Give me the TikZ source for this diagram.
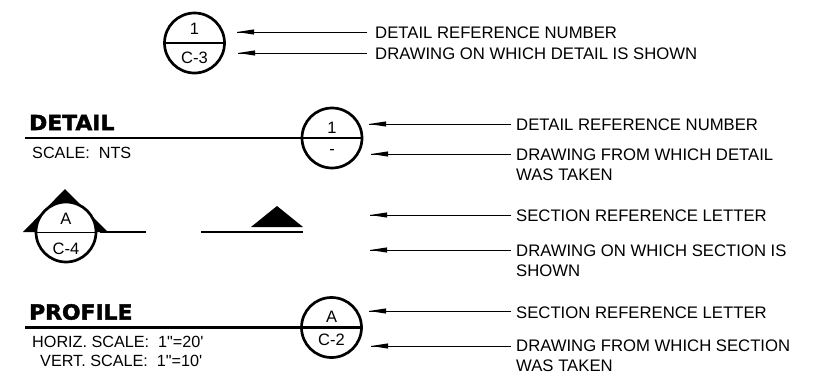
\documentclass[tikz,border=0pt]{standalone}
\usepackage{fontspec}
\newfontfamily\labelfont{Liberation Sans}
\newfontfamily\heavyfont[FakeBold=2,FakeStretch=1.05]{DejaVu Sans Bold}
\begin{document}
\begin{tikzpicture}[x=1pt,y=-1pt,
  heavyline/.style={line width=2.7pt,draw=black},
  lightline/.style={line width=1pt,draw=black},
  bubble/.style={circle,draw=black,line width=2.7pt,fill=white,minimum size=60pt,inner sep=0pt},
  wedge/.style={fill=black,draw=none},
  lbl/.style={anchor=west,font=\labelfont\fontsize{16.7}{20}\selectfont,inner sep=0pt,align=left},
  lblm/.style={anchor=north west,font=\labelfont\fontsize{16.7}{20}\selectfont,inner sep=0pt,align=left},
  sym/.style={anchor=center,font=\labelfont\fontsize{16.5}{20}\selectfont,inner sep=0pt},
  small/.style={anchor=west,font=\labelfont\fontsize{16.2}{20}\selectfont,inner sep=0pt},
  head/.style={anchor=west,font=\heavyfont\fontsize{20.8}{22}\selectfont,inner sep=0pt},
  pointer/.style={line width=0.9pt,draw=black}]
\useasboundingbox (0,0) rectangle (825,375);
\newcommand{\pointerhead}[1]{\fill[black] (#1) -- ++(17,-2.6) -- ++(0,5.2) -- cycle;}
% Top symbol
\node[bubble] (c1) at (194.5,43) {};
\draw[heavyline] (c1.west) -- (c1.east);
\node[sym] (c1a) at (194.5,28.5) {1};
\node[sym] (c1b) at (194.5,57.5) {C-3};
\node[lbl] (t1) at (375,32.5) {DETAIL REFERENCE NUMBER};
\node[lbl] (t2) at (375,54) {DRAWING ON WHICH DETAIL IS SHOWN};
\coordinate (p1) at (237,32); \coordinate (e1) at (367,32);
\coordinate (p2) at (238,53); \coordinate (e2) at (367,53);
\draw[pointer] (e1) -- (p1); \pointerhead{p1}
\draw[pointer] (e2) -- (p2); \pointerhead{p2}
% Detail
\node[bubble] (c2) at (332,138) {};
\node[head] (h1) at (29,122.5) {DETAIL};
\coordinate (l1) at (25,138);
\draw[heavyline] (l1) -- (c2.east);
\node[sym] (c2a) at (332,127.5) {1};
\node[sym] (c2b) at (332,152) {-};
\node[small] (s1) at (32,152.5) {SCALE:\ \ NTS};
\node[lbl] (t3) at (516,124.5) {DETAIL REFERENCE NUMBER};
\node[lblm] (t4) at (516,149) {DRAWING FROM WHICH DETAIL\\WAS TAKEN};
\coordinate (p3) at (369,124); \coordinate (e3) at (511,124);
\coordinate (p4) at (371,154); \coordinate (e4) at (511,154);
\draw[pointer] (e3) -- (p3); \pointerhead{p3}
\draw[pointer] (e4) -- (p4); \pointerhead{p4}
% Section left
\fill[wedge] (23,232) -- (65,189) -- (108,232) -- cycle;
\coordinate (l2) at (100,232); \coordinate (l2b) at (146,232);
\draw[heavyline] (l2) -- (l2b);
\node[bubble] (c3) at (66,232) {};
\draw[lightline] (c3.west) -- (c3.east);
\node[sym] (c3a) at (66,218.5) {A};
\node[sym] (c3b) at (66,248.5) {C-4};
% Section right
\coordinate (l3) at (201,232); \coordinate (l3b) at (303,232);
\draw[heavyline] (l3) -- (l3b);
\fill[wedge] (251,227) -- (277,206) -- (303,227) -- cycle;
\node[lbl] (t5) at (516,216) {SECTION REFERENCE LETTER};
\node[lblm] (t6) at (516,245) {DRAWING ON WHICH SECTION IS\\SHOWN};
\coordinate (p5) at (370,215); \coordinate (e5) at (511,215);
\coordinate (p6) at (370,250); \coordinate (e6) at (511,250);
\draw[pointer] (e5) -- (p5); \pointerhead{p5}
\draw[pointer] (e6) -- (p6); \pointerhead{p6}
% Profile
\node[bubble] (c4) at (331.5,327.5) {};
\node[head] (h2) at (29,312) {PROFILE};
\coordinate (l4) at (25,327.5);
\draw[heavyline] (l4) -- (c4.east);
\node[sym] (c4a) at (331.5,316.5) {A};
\node[sym] (c4b) at (331.5,339.5) {C-2};
\node[small] (s2) at (32,341.5) {HORIZ. SCALE:\ \ 1"=20'};
\node[small] (s3) at (40,360.5) {VERT. SCALE:\ \ 1"=10'};
\node[lbl] (t7) at (516,312.5) {SECTION REFERENCE LETTER};
\node[lblm] (t8) at (516,340) {DRAWING FROM WHICH SECTION\\WAS TAKEN};
\coordinate (p7) at (369,311); \coordinate (e7) at (511,311);
\coordinate (p8) at (371,346); \coordinate (e8) at (511,346);
\draw[pointer] (e7) -- (p7); \pointerhead{p7}
\draw[pointer] (e8) -- (p8); \pointerhead{p8}
\end{tikzpicture}
\end{document}
